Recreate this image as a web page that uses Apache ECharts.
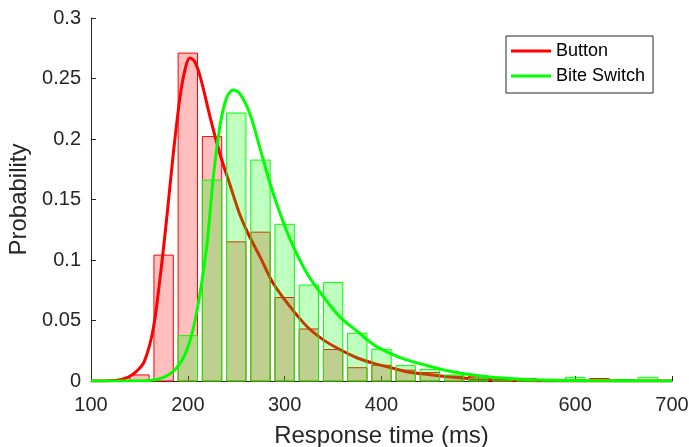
<!DOCTYPE html>
<html>
<head>
<meta charset="utf-8">
<script src="https://cdn.jsdelivr.net/npm/echarts@6/dist/echarts.min.js"></script>
<style>
html,body{margin:0;padding:0;background:#fff;overflow:hidden;}
#c{width:689px;height:447px;}
</style>
</head>
<body>
<div id="c"></div>
<script>
// Histogram bins (ms) and probabilities
const binCenters = [150,175,200,225,250,275,300,325,350,375,400,425,450,475,500,525,550,575,600,625,650,675];
const buttonProb = [0.005,0.104,0.271,0.202,0.115,0.123,0.069,0.043,0.026,0.011,0.013,0.009,0.007,0.004,0.004,0.002,0.002,0.001,0.001,0.002,0.001,0];
const biteProb   = [0,0,0.0375,0.166,0.2215,0.1826,0.1295,0.0793,0.0815,0.0394,0.0262,0.0127,0.0095,0.005,0.002,0.002,0.001,0.001,0.003,0.001,0.001,0.003];
const barWidthMs = 20;

// Fitted curves
const buttonFitX = [100,125,138,147,155,164,171,178,185,192,197,202,207,213,223,233,244,254,264,275,288,305,323,340,357,375,392,410,426,446,468,500,540,600,700];
const buttonFitY = [0,0.0005,0.003,0.008,0.016,0.042,0.083,0.133,0.188,0.235,0.257,0.267,0.264,0.251,0.218,0.188,0.161,0.137,0.119,0.102,0.081,0.062,0.045,0.034,0.026,0.019,0.0146,0.011,0.0077,0.0055,0.0035,0.0015,0.0005,0,0];
const biteFitX = [100,160,175,188,199,209,219.5,226,233,240,247,254,264,275,285,295,306,323,340,357,375,392,409,426,446,468,502,536,580,640,700];
const biteFitY = [0,0.0005,0.003,0.0105,0.0256,0.056,0.111,0.166,0.210,0.234,0.2405,0.237,0.221,0.191,0.163,0.139,0.1165,0.089,0.0697,0.053,0.041,0.030,0.0229,0.0174,0.013,0.0085,0.0041,0.0019,0.0006,0.0001,0];

const seriesNames = ['Button','Bite Switch'];
const xTicks = [100,200,300,400,500,600,700];
const yTicks = [0,0.05,0.1,0.15,0.2,0.25,0.3];

const zip = (a,b) => a.map((v,i)=>[v,b[i]]);

function barRender(stroke, fill){
  return function(params, api){
    const x = api.value(0), y = api.value(1);
    if (!y) return;
    const p0 = api.coord([x - barWidthMs/2, y]);
    const p1 = api.coord([x + barWidthMs/2, 0]);
    return {
      type:'rect',
      shape:{x:p0[0], y:p0[1], width:p1[0]-p0[0], height:p1[1]-p0[1]},
      style:{fill:fill, stroke:stroke, lineWidth:1}
    };
  };
}

const axisColor = '#262626';
const font = 'Liberation Sans, Arial, Helvetica, sans-serif';

const chart = echarts.init(document.getElementById('c'), null, {renderer:'canvas'});
chart.setOption({
  animation:false,
  backgroundColor:'#fff',
  grid:{left:91, right:17, top:18, bottom:66, containLabel:false, outerBoundsMode:'none'},
  legend:{
    left:506, top:36, orient:'vertical',
    data:[{name:seriesNames[0], icon:'rect'},{name:seriesNames[1], icon:'rect'}],
    itemWidth:40, itemHeight:3, itemGap:7,
    padding:[6,8,8,5],
    borderColor:axisColor, borderWidth:1, backgroundColor:'#fff',
    textStyle:{fontFamily:font, fontSize:18, color:'#000'}
  },
  xAxis:{
    type:'value', min:xTicks[0], max:xTicks[xTicks.length-1], interval:100,
    name:'Response time (ms)', nameLocation:'middle', nameGap:43,
    nameTextStyle:{fontFamily:font, fontSize:24, color:axisColor},
    axisLine:{show:true, lineStyle:{color:axisColor, width:1}},
    axisTick:{show:true, inside:true, length:5, lineStyle:{color:axisColor}},
    axisLabel:{fontFamily:font, fontSize:20, color:axisColor, margin:14},
    splitLine:{show:false}
  },
  yAxis:{
    type:'value', min:yTicks[0], max:yTicks[yTicks.length-1], interval:0.05,
    name:'Probability', nameLocation:'middle', nameGap:51,
    nameTextStyle:{fontFamily:font, fontSize:24, color:axisColor},
    axisLine:{show:true, lineStyle:{color:axisColor, width:1}},
    axisTick:{show:true, inside:true, length:5, lineStyle:{color:axisColor}},
    axisLabel:{fontFamily:font, fontSize:20, color:axisColor, margin:10},
    splitLine:{show:false}
  },
  series:[
    {type:'custom', name:'ButtonHist', z:2, renderItem:barRender('#ff0000','rgba(255,0,0,0.25)'),
     encode:{x:0,y:1}, data:zip(binCenters, buttonProb), silent:true},
    {type:'line', name:seriesNames[0], z:3, data:zip(buttonFitX, buttonFitY),
     smooth:0.35, showSymbol:false, symbol:'none', color:'#ff0000',
     lineStyle:{color:'#ff0000', width:3}},
    {type:'custom', name:'BiteHist', z:4, renderItem:barRender('#00ff00','rgba(0,255,0,0.25)'),
     encode:{x:0,y:1}, data:zip(binCenters, biteProb), silent:true},
    {type:'line', name:seriesNames[1], z:5, data:zip(biteFitX, biteFitY),
     smooth:0.35, showSymbol:false, symbol:'none', color:'#00ff00',
     lineStyle:{color:'#00ff00', width:3}}
  ]
});
</script>
</body>
</html>
